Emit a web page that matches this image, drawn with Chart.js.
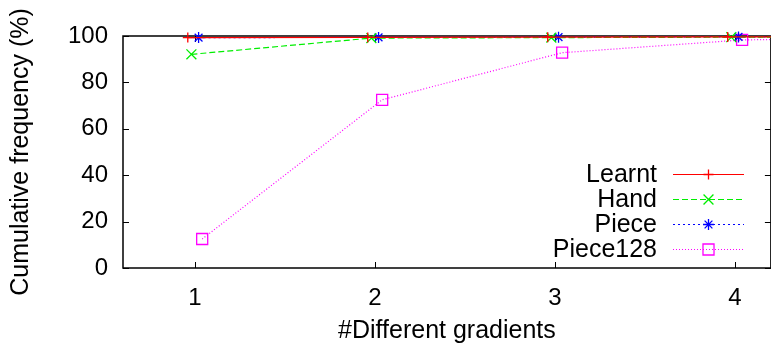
<!DOCTYPE html>
<html>
<head>
<meta charset="utf-8">
<script src="https://cdn.jsdelivr.net/npm/chart.js@4/dist/chart.umd.min.js"></script>
<style>
  html, body { margin: 0; padding: 0; background: #fff; overflow: hidden; }
  #wrap { width: 780px; height: 343px; }
</style>
</head>
<body>
<div id="wrap"><canvas id="chart" width="780" height="343"></canvas></div>
<script>
// Data
const CATEGORIES = [1, 2, 3, 4, 5];
const LEARNT = [99.3, 99.4, 99.5, 99.6, 99.7];
const HAND = [92.1, 99.1, 99.3, 99.5, 99.6];
const PIECE = [99.3, 99.4, 99.5, 99.6, 99.7];
const PIECE128 = [12.5, 72.5, 92.8, 98.3, 99.5];
const SERIES_NAMES = ['Learnt', 'Hand', 'Piece', 'Piece128'];
const X_TICKS = [1, 2, 3, 4];
const Y_TICKS = [0, 20, 40, 60, 80, 100];

const FONT = 'Liberation Sans, Arial, Helvetica, sans-serif';
const TICK_SIZE = 24;
const TITLE_SIZE = 25;

// Styles: each series is nudged sideways a little, like gnuplot did
const STYLES = [
  { color: '#ff0000', dash: [], point: 'cross', radius: 5, offset: -0.04 },
  { color: '#00ee00', dash: [6, 3], point: 'crossRot', radius: 7, offset: -0.02 },
  { color: '#0000ff', dash: [2, 3], point: 'star', radius: 5.5, offset: 0.02 },
  { color: '#ff00ff', dash: [1, 2], point: 'rect', radius: 7.8, offset: 0.04 }
];

const toPoints = (values, offset) => values.map((v, i) => ({ x: CATEGORIES[i] + offset, y: v }));

const datasets = [LEARNT, HAND, PIECE, PIECE128].map((values, i) => ({
  label: SERIES_NAMES[i],
  data: toPoints(values, STYLES[i].offset),
  borderColor: STYLES[i].color,
  borderWidth: 1.2,
  borderDash: STYLES[i].dash,
  pointStyle: STYLES[i].point,
  pointRadius: STYLES[i].radius,
  pointBorderColor: STYLES[i].color,
  pointBackgroundColor: 'rgba(0,0,0,0)',
  pointBorderWidth: 1.3,
  tension: 0,
  clip: false
}));

// Frame with inward ticks on all four sides
const framePlugin = {
  id: 'frame',
  beforeDatasetsDraw(chart) {
    const { ctx, chartArea: a, scales: { x, y } } = chart;
    ctx.save();
    ctx.strokeStyle = '#000';
    ctx.lineWidth = 1.5;
    ctx.strokeRect(a.left, a.top, a.right - a.left, a.bottom - a.top);
    ctx.lineWidth = 1;
    ctx.beginPath();
    Y_TICKS.forEach(v => {
      const py = Math.round(y.getPixelForValue(v)) + 0.5;
      ctx.moveTo(a.left, py); ctx.lineTo(a.left + 6, py);
      ctx.moveTo(a.right, py); ctx.lineTo(a.right - 6, py);
    });
    X_TICKS.forEach(v => {
      const px = Math.round(x.getPixelForValue(v)) + 0.5;
      ctx.moveTo(px, a.bottom); ctx.lineTo(px, a.bottom - 6);
      ctx.moveTo(px, a.top); ctx.lineTo(px, a.top + 6);
    });
    ctx.stroke();
    ctx.restore();
  }
};

// gnuplot style key: right aligned names, then a line sample with the marker
const keyPlugin = {
  id: 'key',
  afterDraw(chart) {
    const { ctx } = chart;
    const textRight = 657, lineStart = 673, lineEnd = 744, top = 174, rowH = 25;
    ctx.save();
    ctx.font = TITLE_SIZE + 'px ' + FONT;
    ctx.textAlign = 'right';
    ctx.textBaseline = 'middle';
    chart.data.datasets.forEach((ds, i) => {
      const yy = top + i * rowH;
      const st = STYLES[i];
      ctx.fillStyle = '#000';
      ctx.fillText(ds.label, textRight, yy + 1);
      ctx.strokeStyle = st.color;
      ctx.lineWidth = 1.2;
      ctx.setLineDash(st.dash);
      ctx.beginPath();
      ctx.moveTo(lineStart, yy + 0.5);
      ctx.lineTo(lineEnd, yy + 0.5);
      ctx.stroke();
      ctx.setLineDash([]);
      ctx.strokeStyle = st.color;
      ctx.lineWidth = 1.3;
      ctx.fillStyle = 'rgba(0,0,0,0)';
      Chart.helpers.drawPoint(ctx, {
        pointStyle: st.point, radius: st.radius, rotation: 0, borderWidth: 1.3
      }, (lineStart + lineEnd) / 2, yy + 0.5);
    });
    ctx.restore();
  }
};

new Chart(document.getElementById('chart').getContext('2d'), {
  type: 'line',
  data: { datasets },
  options: {
    responsive: false,
    animation: false,
    devicePixelRatio: 1,
    layout: { padding: { top: 36, right: 6, left: 0, bottom: 0 } },
    plugins: { legend: { display: false }, tooltip: { enabled: false } },
    scales: {
      x: {
        type: 'linear',
        min: 0.6,
        max: 4.2,
        afterFit: s => { s.height = 75; },
        afterBuildTicks: s => { s.ticks = X_TICKS.map(v => ({ value: v })); },
        grid: { display: false, drawTicks: false },
        border: { display: false },
        ticks: { color: '#000', padding: 16, font: { family: FONT, size: TICK_SIZE } },
        title: {
          display: true, text: '#Different gradients', color: '#000',
          font: { family: FONT, size: TITLE_SIZE }, padding: { top: 0, bottom: -3 }
        }
      },
      y: {
        min: 0,
        max: 100,
        afterFit: s => { s.width = 123; },
        afterBuildTicks: s => { s.ticks = Y_TICKS.map(v => ({ value: v })); },
        grid: { display: false, drawTicks: false },
        border: { display: false },
        ticks: { color: '#000', padding: 15, font: { family: FONT, size: TICK_SIZE } },
        title: {
          display: true, text: 'Cumulative frequency (%)', color: '#000',
          font: { family: FONT, size: TITLE_SIZE }, padding: { top: 6, bottom: 0 }
        }
      }
    }
  },
  plugins: [framePlugin, keyPlugin]
});
</script>
</body>
</html>
